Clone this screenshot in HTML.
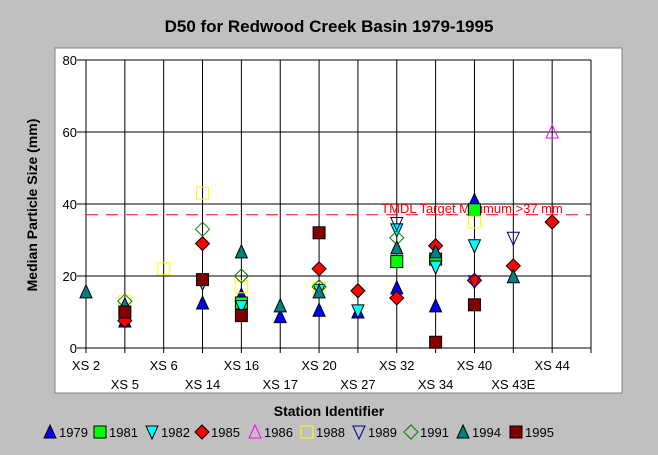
<!DOCTYPE html>
<html><head><meta charset="utf-8"><style>
body{margin:0;background:#c0c0c0;}
svg{display:block;font-family:"Liberation Sans",Arial,sans-serif;}
</style></head><body>
<svg id="chart" width="658" height="455" viewBox="0 0 658 455" xmlns="http://www.w3.org/2000/svg">
<rect x="0" y="0" width="658" height="455" fill="#c0c0c0"/>
<rect x="55" y="48" width="567" height="345" fill="#fff" stroke="#808080"/>
<text x="329" y="32" text-anchor="middle" font-size="17" font-weight="bold">D50 for Redwood Creek Basin 1979-1995</text>
<text transform="translate(37,205) rotate(-90)" text-anchor="middle" font-size="14" font-weight="bold">Median Particle Size (mm)</text>
<text x="329" y="416" text-anchor="middle" font-size="14" font-weight="bold">Station Identifier</text>
<g id="grid"></g><g id="marks"></g><g id="legend"></g>
</svg>
<script>
const categories=["XS 2","XS 5","XS 6","XS 14","XS 16","XS 17","XS 20","XS 27","XS 32","XS 34","XS 40","XS 43E","XS 44"];
const yTicks=[0,20,40,60,80];
const years=["1979","1981","1982","1985","1986","1988","1989","1991","1994","1995"];
const s1979=[null,7.5,null,12.5,14.7,8.7,10.5,10,16.7,11.7,41,null,null];
const s1981=[null,null,null,null,12.5,null,null,null,24,24.7,38.4,null,null];
const s1982=[null,8,null,18,11.5,null,16,10.3,32.8,22.5,28.4,null,null];
const s1985=[null,7.6,null,29,null,null,22,15.9,13.9,28.4,18.8,22.8,35];
const s1986=[null,null,null,null,null,null,null,null,null,null,null,null,60];
const s1988=[null,13,22,43,17,null,16.5,null,null,null,35,null,null];
const s1989=[null,null,null,null,null,null,null,null,34.6,null,18.4,30.5,null];
const s1991=[null,13,null,33,20,null,17,null,30.6,null,null,null,null];
const s1994=[15.6,12,null,null,26.7,11.7,15.6,null,27.8,26.7,null,19.8,null];
const s1995=[null,10,null,19,9,null,32,null,null,1.6,12,null,null];
const tmdl=37;
const series=[s1979,s1981,s1982,s1985,s1986,s1988,s1989,s1991,s1994,s1995];
const styles=[["tri","#0000ff",1],["sq","#00ff00",1],["tridown","#00ffff",1],["dia","#ff0000",1],["tri","#ff00ff",0],["sq","#ffff00",0],["tridown","#000080",0],["dia","#008000",0],["tri","#008080",1],["sq","#800000",1]];
const NS="http://www.w3.org/2000/svg";
const X0=86,X1=591,Y0=348,Y1=60;
const xs=i=>X0+i*(X1-X0)/13;
const ys=v=>Y0-v*(Y0-Y1)/80;
function mk(t,a,p){const e=document.createElementNS(NS,t);for(const k in a)e.setAttribute(k,a[k]);p.appendChild(e);return e;}
const grid=document.getElementById('grid');
yTicks.forEach(v=>{
 const l=mk('line',{x1:77,x2:X1,y1:ys(v),y2:ys(v),stroke:'#000'},grid);
 
 
 const t=mk('text',{x:77,y:ys(v)+5,'text-anchor':'end','font-size':13},grid);t.textContent=v;
 
 
});
categories.forEach((c,i)=>{
 const l=mk('line',{x1:xs(i),x2:xs(i),y1:Y1,y2:Y0+5,stroke:'#000'},grid);
 
 
 const t=mk('text',{x:xs(i),y:i%2?389:370,'text-anchor':'middle','font-size':13},grid);t.textContent=c;
 
 
});
const ax=mk('line',{x1:X1,x2:X1,y1:Y1,y2:Y0+5,stroke:'#000'},grid);


const yax=mk('line',{x1:X0,x2:X0,y1:Y1,y2:Y0,stroke:'#000'},grid);


const tl=mk('line',{x1:X0,x2:X1,y1:ys(tmdl),y2:ys(tmdl),stroke:'#ff0000','stroke-dasharray':'12 8'},grid);


const tt=mk('text',{x:472,y:ys(tmdl)-2,'text-anchor':'middle','font-size':13,fill:'#ff0000'},grid);tt.textContent='TMDL Target Minimum >37 mm';


function marker(shape,col,fill,x,y,p){
 const r=6;let e;
 const f=fill?col:'none';
 const st=fill?'#000':col;
 if(shape=='tri')e=mk('polygon',{points:`${x},${y-r-1} ${x-r},${y+r} ${x+r},${y+r}`,fill:f,stroke:st},p);
 else if(shape=='tridown')e=mk('polygon',{points:`${x},${y+r+1} ${x-r},${y-r} ${x+r},${y-r}`,fill:f,stroke:st},p);
 else if(shape=='dia')e=mk('polygon',{points:`${x},${y-r-1} ${x+r+1},${y} ${x},${y+r+1} ${x-r-1},${y}`,fill:f,stroke:st},p);
 else e=mk('rect',{x:x-r,y:y-r,width:2*r,height:2*r,fill:f,stroke:st},p);
 return e;
}
const marks=document.getElementById('marks');
series.forEach((s,k)=>{
 s.forEach((v,i)=>{
  if(v==null)return;
  const e=marker(styles[k][0],styles[k][1],styles[k][2],xs(i),ys(v),marks);
  
  
 });
});
const leg=document.getElementById('legend');
const lx=[55,105,157,207,260,312,364,416,468,521];
years.forEach((y,k)=>{
 const g=mk('g',{},leg);
 
 
 marker(styles[k][0],styles[k][1],styles[k][2],lx[k]-5,432,g);
 const t=mk('text',{x:lx[k]+4,y:437,'font-size':13},g);t.textContent=y;
});
</script>
</body></html>
